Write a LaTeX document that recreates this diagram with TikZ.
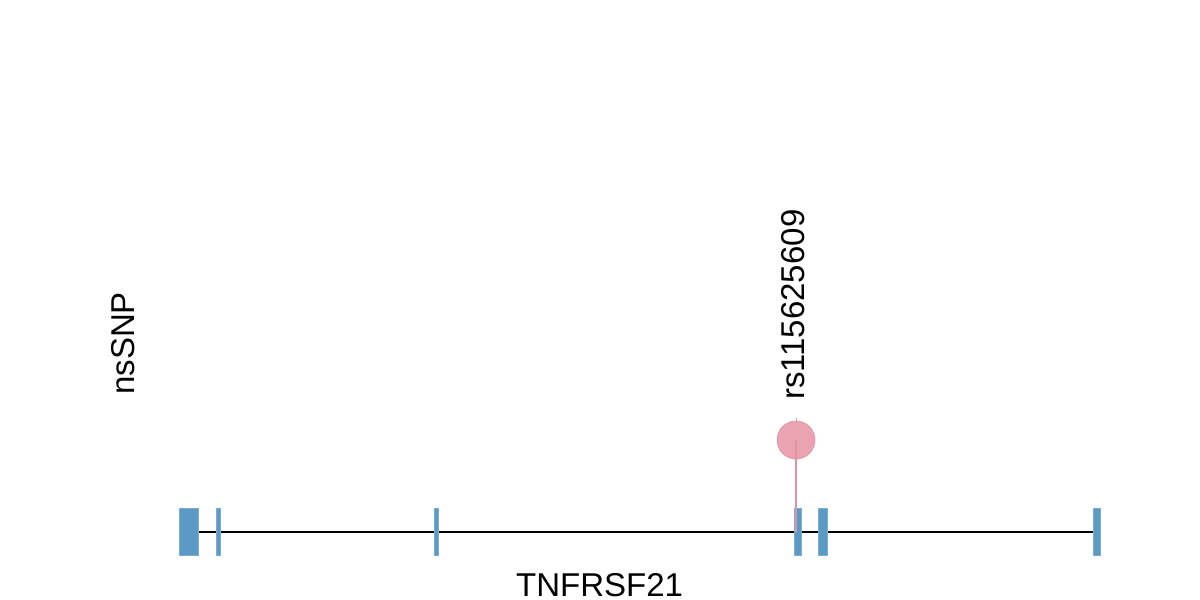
\documentclass[tikz,border=0pt]{standalone}
\usepackage{fontspec}
\setmainfont{Liberation Sans}
\definecolor{exonblue}{RGB}{92,154,198}
\definecolor{lolipink}{RGB}{233,163,177}
\definecolor{lolipinkdark}{RGB}{228,155,172}
\definecolor{stickpink}{RGB}{226,145,166}
\begin{document}
\begin{tikzpicture}[x=1pt,y=-1pt,
  exon/.style={fill=exonblue, draw=exonblue!80!white, line width=0.6pt},
  lbl/.style={inner sep=0pt, font=\fontsize{33}{40}\selectfont},
  vlbl/.style={lbl, rotate=90, anchor=base west}]
\useasboundingbox (0,0) rectangle (1200,600);
% backbone
\coordinate (bbL) at (198,531.5);
\coordinate (bbR) at (1094,531.5);
\draw[line width=2pt] (bbL) -- (bbR);
% exons
\path[exon] (179,508) rectangle (198,555);
\path[exon] (216,508) rectangle (220,555);
\path[exon] (434.5,508) rectangle (438.5,555);
\path[exon] (794.5,508) rectangle (801.5,555);
\path[exon] (818,508) rectangle (827,555);
\path[exon] (1093.5,508) rectangle (1100.5,555);
% lollipop
\coordinate (stickbot) at (796,532);
\coordinate (sticktop) at (796,418);
\node[circle, fill=lolipink, draw=lolipinkdark, line width=0.8pt, minimum size=38pt, inner sep=0pt] (snp) at (796,440) {};
\draw[gray!60, line width=1pt] (sticktop) -- (snp.north);
\draw[stickpink, line width=1.4pt] (snp.center) -- (stickbot);
% labels
\node[vlbl] (snplabel) at (804,400) {rs115625609};
\node[vlbl] (track) at (134,395) {nsSNP};
\node[lbl, anchor=base west, text depth=0pt] (gene) at (516,596) {TNFRSF21};
\end{tikzpicture}
\end{document}
